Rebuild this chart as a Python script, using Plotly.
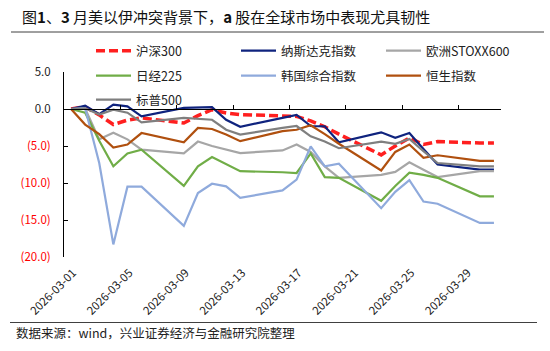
import pandas as pd
import plotly.graph_objects as go

# ---------------- data ----------------
dates = ["2026-03-01", "2026-03-02", "2026-03-03", "2026-03-04", "2026-03-05", "2026-03-06",
         "2026-03-09", "2026-03-10", "2026-03-11", "2026-03-12", "2026-03-13",
         "2026-03-16", "2026-03-17", "2026-03-18", "2026-03-19", "2026-03-20",
         "2026-03-23", "2026-03-24", "2026-03-25", "2026-03-26", "2026-03-27",
         "2026-03-30", "2026-03-31"]

hs300 = [0, 0.3, -0.8, -2.1, -1.5, -1.2, -1.9, -0.9, -0.1, -0.55, -0.75,
         -0.85, -1.0, -1.6, -2.4, -3.4, -6.2, -5.0, -3.9, -4.8, -4.4, -4.6, -4.6]
nasdaq = [0, 0.45, -0.7, 0.6, 0.35, -1.0, 0.15, 0.2, 0.25, -1.45, -2.4,
          -1.2, -0.8, -2.3, -2.35, -4.5, -3.15, -3.9, -3.25, -5.4, -7.5, -8.2, -8.2]
stoxx600 = [0, 0.05, -4.1, -3.2, -4.1, -5.5, -6.0, -4.4, -5.0, -5.5, -5.95,
            -5.6, -4.8, -5.8, -7.75, -9.3, -8.9, -8.5, -7.2, -8.2, -9.2, -8.4, -8.4]
nikkei225 = [0, -0.5, -4.3, -7.75, -6.0, -5.5, -10.4, -7.75, -6.5, -7.5, -8.4,
             -8.55, -8.65, -6.0, -9.2, -9.3, -12.4, -10.4, -8.6, -8.9, -9.3, -11.8, -11.8]
kospi = [0, 0.1, -7.3, -18.3, -10.5, -10.5, -15.8, -11.35, -10.1, -10.45, -12.0,
         -11.0, -9.55, -5.05, -7.75, -7.4, -13.4, -11.2, -9.6, -12.5, -12.8, -15.4, -15.4]
hsi = [0, -2.1, -3.4, -5.2, -4.8, -3.25, -4.5, -2.55, -2.7, -3.45, -4.35,
       -3.0, -2.8, -2.2, -3.4, -4.7, -8.3, -5.8, -4.8, -6.6, -6.25, -7.0, -7.0]
sp500 = [0, 0.1, -0.75, -0.1, -0.5, -1.8, -1.2, -1.3, -1.45, -2.8, -3.45,
         -2.55, -2.3, -3.7, -4.4, -5.3, -4.4, -4.7, -4.05, -5.7, -7.3, -7.75, -7.75]

series_names = ["沪深300", "纳斯达克指数", "欧洲STOXX600", "日经225", "韩国综合指数", "恒生指数", "标普500"]
ytick_vals = [5, 0, -5, -10, -15, -20]
ytick_text = ["5.0", "0.0", "(5.0)", "(10.0)", "(15.0)", "(20.0)"]
title_text = "图<b>1</b>、<b>3</b> 月美以伊冲突背景下，<b>a</b> 股在全球市场中表现尤具韧性"
source_text = "数据来源：wind，兴业证券经济与金融研究院整理"

# ---------------- styling ----------------
W, H = 550, 351
L, R, T, B = 64, 49, 72, 94
PW, PH = W - L - R, H - T - B
FONT = "Noto Sans CJK SC"


def fx(p):
    return (p - L) / PW


def fy(p):
    return (H - B - p) / PH


# Excel date axis: points centred within each day
xs = pd.to_datetime(dates) + pd.Timedelta(hours=12)

styles = [
    dict(color="#FF1F1F", width=3.5, dash="9px,4px"),
    dict(color="#0F237E", width=2.2),
    dict(color="#A6A6A6", width=2.2),
    dict(color="#70AD47", width=2.2),
    dict(color="#8FAADC", width=2.2),
    dict(color="#B0500F", width=2.2),
    dict(color="#7F7F7F", width=2.2),
]
legend_ids = ["legend", "legend", "legend", "legend2", "legend2", "legend2", "legend3"]
# the last series sits on the (matched) label axis so that both x axes get drawn
xaxis_ids = ["x", "x", "x", "x", "x", "x", "x2"]
all_series = [hs300, nasdaq, stoxx600, nikkei225, kospi, hsi, sp500]

fig = go.Figure()
for name, vals, st, lg, xa in zip(series_names, all_series, styles, legend_ids, xaxis_ids):
    fig.add_trace(go.Scatter(x=xs, y=vals, mode="lines", name=name, line=st,
                             legend=lg, xaxis=xa, yaxis="y"))

neg_col = "#FF0000"
ytext = [t if not t.startswith("(") else f'<span style="color:{neg_col}">{t}</span>' for t in ytick_text]

tick_common = dict(
    type="date",
    range=["2026-03-01", "2026-04-01"],
    tickmode="linear",
    tick0="2026-03-01",
    dtick=4 * 86400000,
    tickformat="%Y-%m-%d",
    showgrid=False,
    zeroline=False,
)

legend_common = dict(
    orientation="h",
    font=dict(family=FONT, size=12.5, color="#222222"),
    bgcolor="rgba(0,0,0,0)",
    entrywidth=95,
    entrywidthmode="pixels",
    itemwidth=35,
    xanchor="left",
    yanchor="middle",
    traceorder="normal",
)

fig.update_layout(
    width=W,
    height=H,
    margin=dict(l=L, r=R, t=T, b=B, pad=0),
    paper_bgcolor="white",
    plot_bgcolor="white",
    font=dict(family=FONT, size=11, color="#222222"),
    xaxis=dict(
        **tick_common,
        anchor="free",
        position=0.8,
        showline=True,
        linecolor="black",
        linewidth=1,
        ticks="inside",
        ticklen=4,
        tickcolor="black",
        showticklabels=False,
    ),
    xaxis2=dict(
        **tick_common,
        overlaying="x",
        matches="x",
        anchor="y",
        side="bottom",
        showline=False,
        ticks="",
        showticklabels=True,
        tickangle=-45,
        tickfont=dict(family=FONT, size=11.5, color="#222222"),
        ticklabelshift=9,
        ticklabelstandoff=6,
    ),
    yaxis=dict(
        range=[-20, 5],
        tickmode="array",
        tickvals=ytick_vals,
        ticktext=ytext,
        showline=True,
        linecolor="black",
        linewidth=1,
        ticks="inside",
        ticklen=4,
        tickcolor="black",
        showgrid=False,
        zeroline=False,
        tickfont=dict(family=FONT, size=11.5, color="#222222"),
        ticklabelstandoff=10,
    ),
    legend=dict(**legend_common, x=fx(91), y=fy(51)),
    legend2=dict(**legend_common, x=fx(91), y=fy(76)),
    legend3=dict(**legend_common, x=fx(91), y=fy(100)),
    showlegend=True,
)

fig.add_annotation(
    text=title_text, xref="paper", yref="paper", x=fx(20), y=fy(17),
    xanchor="left", yanchor="middle", showarrow=False,
    font=dict(family=FONT, size=15, color="#111111"),
)
fig.add_annotation(
    text=source_text, xref="paper", yref="paper", x=fx(14), y=fy(332),
    xanchor="left", yanchor="middle", showarrow=False,
    font=dict(family=FONT, size=12.5, color="#222222"),
)
fig.add_shape(type="line", xref="paper", yref="paper", x0=fx(11), x1=fx(544), y0=fy(32), y1=fy(32),
              line=dict(color="#404040", width=1))
fig.add_shape(type="line", xref="paper", yref="paper", x0=fx(10), x1=fx(537), y0=fy(322.5), y1=fy(322.5),
              line=dict(color="#404040", width=1))

fig.write_html("out.html")
